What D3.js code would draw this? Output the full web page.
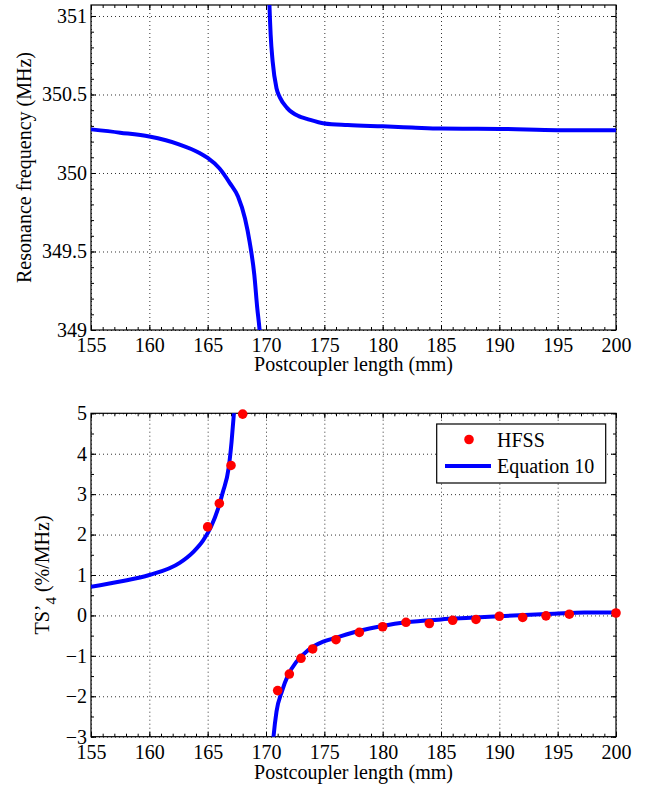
<!DOCTYPE html>
<html>
<head>
<meta charset="utf-8">
<script src="https://cdn.jsdelivr.net/npm/d3@7"></script>
<style>
  body { margin: 0; background: #fff; }
</style>
</head>
<body>
<div id="container"></div>
<script>
/* 1. VARIABLES: CONSTANTS AND GLOBALS */
const width = 652,
      height = 787;

const left = 91, right = 616;
const topPanel = {top: 5, bottom: 330},
      botPanel = {top: 413.3, bottom: 736.7};

const fontSize = 20;
const serif = "'Liberation Serif', 'DejaVu Serif', 'Times New Roman', serif";
const lineColor = "#0000ff",
      dotColor = "#ff0000";

/* 2. DATA */
// upper panel: resonance frequency, two branches
const freqLowX = [155, 157.5, 160, 162.6, 164.3, 165, 166, 166.9, 167.6, 168.2, 168.6, 169, 169.25, 169.45, 169.55];
const freqLowY = [350.278, 350.257, 350.232, 350.181, 350.128, 350.096, 350.03, 349.936, 349.85, 349.71, 349.56, 349.35, 349.14, 349.0, 348.9];
const freqHighX = [170.25, 170.3, 170.4, 170.57, 170.9, 171.2, 171.8, 172.8, 173.5, 175, 177, 180, 182.5, 185, 190, 195, 200];
const freqHighY = [351.2, 351.06, 350.88, 350.71, 350.54, 350.48, 350.415, 350.362, 350.345, 350.315, 350.305, 350.297, 350.29, 350.283, 350.281, 350.273, 350.272];

// lower panel: Equation 10 curve, two branches
const eqLeftX = [155, 157.5, 160, 162.6, 163.8, 164.6, 165.3, 165.9, 166.3, 166.8, 167.05, 167.25, 167.35];
const eqLeftY = [0.71, 0.84, 1.0, 1.3, 1.58, 1.85, 2.2, 2.65, 3.05, 3.65, 4.3, 5.0, 5.4];
const eqRightX = [170.55, 170.63, 170.9, 171.35, 171.9, 172.6, 173.6, 174.9, 176, 178, 180, 182, 185, 187.5, 190, 194.7, 197.3, 200];
const eqRightY = [-3.3, -3.04, -2.38, -1.89, -1.47, -1.15, -0.86, -0.65, -0.55, -0.38, -0.26, -0.17, -0.1, -0.06, -0.02, 0.04, 0.07, 0.07];

// lower panel: HFSS points
const hfssX = [165, 166, 167, 168, 171, 172, 173, 174, 176, 178, 180, 182, 184, 186, 188, 190, 192, 194, 196, 200];
const hfssY = [2.19, 2.77, 3.71, 4.98, -1.86, -1.45, -1.06, -0.83, -0.6, -0.42, -0.28, -0.17, -0.2, -0.12, -0.1, -0.02, -0.05, -0.01, 0.03, 0.06];

// ticks
const xTicks = [155, 160, 165, 170, 175, 180, 185, 190, 195, 200];
const freqTicks = [349, 349.5, 350, 350.5, 351];
const tsTicks = [-3, -2, -1, 0, 1, 2, 3, 4, 5];

const zip = (xs, ys) => xs.map((x, i) => ({x: x, y: ys[i]}));

/* 3. SVG */
const svg = d3.select("#container")
              .append("svg")
              .attr("width", width)
              .attr("height", height)
              .style("font-family", serif);

/* 4. PANEL HELPER */
function drawPanel(p, yDomain, yTicks, yMinorStep, id) {
  const xScale = d3.scaleLinear()
                   .domain([155, 200])
                   .range([left, right]);
  const yScale = d3.scaleLinear()
                   .domain(yDomain)
                   .range([p.bottom, p.top]);
  const innerW = right - left,
        innerH = p.bottom - p.top;

  const xMinor = d3.range(155, 200.001, 1);
  const yMinor = d3.range(yDomain[0], yDomain[1] + 1e-6, yMinorStep);

  svg.append("clipPath")
     .attr("id", id)
     .append("rect")
     .attr("x", left).attr("y", p.top)
     .attr("width", innerW).attr("height", innerH);

  // dotted grid
  svg.append("g")
     .attr("transform", `translate(0,${p.bottom})`)
     .call(d3.axisBottom(xScale).tickValues(xTicks).tickSize(-innerH).tickFormat(""))
     .call(g => g.select(".domain").remove())
     .selectAll("line")
       .attr("stroke", "#333")
       .attr("stroke-dasharray", "1,3");
  svg.append("g")
     .attr("transform", `translate(${left},0)`)
     .call(d3.axisLeft(yScale).tickValues(yTicks).tickSize(-innerW).tickFormat(""))
     .call(g => g.select(".domain").remove())
     .selectAll("line")
       .attr("stroke", "#333")
       .attr("stroke-dasharray", "1,3");

  // inward ticks on all four sides
  const tickAxes = [
    [d3.axisBottom, `translate(0,${p.bottom})`, xScale, xTicks, xMinor],
    [d3.axisTop, `translate(0,${p.top})`, xScale, xTicks, xMinor],
    [d3.axisLeft, `translate(${left},0)`, yScale, yTicks, yMinor],
    [d3.axisRight, `translate(${right},0)`, yScale, yTicks, yMinor]
  ];
  tickAxes.forEach(([axisFn, tr, sc, major, minor]) => {
    svg.append("g")
       .attr("transform", tr)
       .call(axisFn(sc).tickValues(minor).tickSize(-3).tickFormat(""))
       .call(g => g.select(".domain").remove())
       .selectAll("line").attr("stroke", "#000");
    svg.append("g")
       .attr("transform", tr)
       .call(axisFn(sc).tickValues(major).tickSize(-5).tickFormat(""))
       .call(g => g.select(".domain").remove())
       .selectAll("line").attr("stroke", "#000");
  });

  // tick labels
  svg.append("g")
     .attr("transform", `translate(0,${p.bottom})`)
     .call(d3.axisBottom(xScale).tickValues(xTicks).tickSize(0).tickPadding(8))
     .call(g => g.select(".domain").remove())
     .selectAll("text")
       .style("font-family", serif)
       .style("font-size", fontSize + "px")
       .attr("fill", "#000");
  svg.append("g")
     .attr("transform", `translate(${left},0)`)
     .call(d3.axisLeft(yScale).tickValues(yTicks).tickSize(0).tickPadding(4).tickFormat(d3.format("~f")))
     .call(g => g.select(".domain").remove())
     .selectAll("text")
       .style("font-family", serif)
       .style("font-size", fontSize + "px")
       .attr("fill", "#000");

  // box
  svg.append("rect")
     .attr("x", left).attr("y", p.top)
     .attr("width", innerW).attr("height", innerH)
     .attr("fill", "none")
     .attr("stroke", "#000")
     .attr("stroke-width", 1.2);

  return {xScale, yScale};
}

/* 5. UPPER PANEL */
const up = drawPanel(topPanel, [349, 351.07], freqTicks, 0.1, "clipTop");

const upLine = d3.line()
                 .x(d => up.xScale(d.x))
                 .y(d => up.yScale(d.y))
                 .curve(d3.curveMonotoneX);

[zip(freqLowX, freqLowY), zip(freqHighX, freqHighY)].forEach(branch => {
  svg.append("path")
     .datum(branch)
     .attr("clip-path", "url(#clipTop)")
     .attr("d", upLine)
     .attr("fill", "none")
     .attr("stroke", lineColor)
     .attr("stroke-width", 4);
});

svg.append("text")
   .attr("x", (left + right) / 2)
   .attr("y", 371)
   .attr("text-anchor", "middle")
   .style("font-family", serif)
   .style("font-size", fontSize + "px")
   .text("Postcoupler length (mm)");

svg.append("text")
   .attr("transform", `translate(31,${(topPanel.top + topPanel.bottom) / 2}) rotate(-90)`)
   .attr("text-anchor", "middle")
   .style("font-family", serif)
   .style("font-size", fontSize + "px")
   .text("Resonance frequency (MHz)");

/* 6. LOWER PANEL */
const lo = drawPanel(botPanel, [-3, 5], tsTicks, 0.5, "clipBot");

const loLine = d3.line()
                 .x(d => lo.xScale(d.x))
                 .y(d => lo.yScale(d.y))
                 .curve(d3.curveMonotoneX);

[zip(eqLeftX, eqLeftY), zip(eqRightX, eqRightY)].forEach(branch => {
  svg.append("path")
     .datum(branch)
     .attr("clip-path", "url(#clipBot)")
     .attr("d", loLine)
     .attr("fill", "none")
     .attr("stroke", lineColor)
     .attr("stroke-width", 4);
});

svg.append("g")
   .selectAll("circle")
   .data(zip(hfssX, hfssY))
   .join("circle")
   .attr("cx", d => lo.xScale(d.x))
   .attr("cy", d => lo.yScale(d.y))
   .attr("r", 4.8)
   .attr("fill", dotColor);

svg.append("text")
   .attr("x", (left + right) / 2)
   .attr("y", 779)
   .attr("text-anchor", "middle")
   .style("font-family", serif)
   .style("font-size", fontSize + "px")
   .text("Postcoupler length (mm)");

const tsLabel = svg.append("text")
   .attr("transform", `translate(49,${(botPanel.top + botPanel.bottom) / 2}) rotate(-90)`)
   .attr("text-anchor", "middle")
   .style("font-family", serif)
   .style("font-size", fontSize + "px");
tsLabel.append("tspan").text("TS’");
tsLabel.append("tspan").attr("dy", 7).style("font-size", "15px").text("4");
tsLabel.append("tspan").attr("dy", -7).text(" (%/MHz)");

// legend
const legend = svg.append("g");
legend.append("rect")
      .attr("x", 436.7).attr("y", 424)
      .attr("width", 169).attr("height", 59)
      .attr("fill", "#fff")
      .attr("stroke", "#000")
      .attr("stroke-width", 1.2);
legend.append("circle")
      .attr("cx", 469).attr("cy", 439.5)
      .attr("r", 4.8)
      .attr("fill", dotColor);
legend.append("line")
      .attr("x1", 445).attr("x2", 491)
      .attr("y1", 466).attr("y2", 466)
      .attr("stroke", lineColor)
      .attr("stroke-width", 4);
legend.append("text")
      .attr("x", 497).attr("y", 446.5)
      .style("font-family", serif)
      .style("font-size", fontSize + "px")
      .text("HFSS");
legend.append("text")
      .attr("x", 497).attr("y", 473)
      .style("font-family", serif)
      .style("font-size", fontSize + "px")
      .text("Equation 10");
</script>
</body>
</html>
